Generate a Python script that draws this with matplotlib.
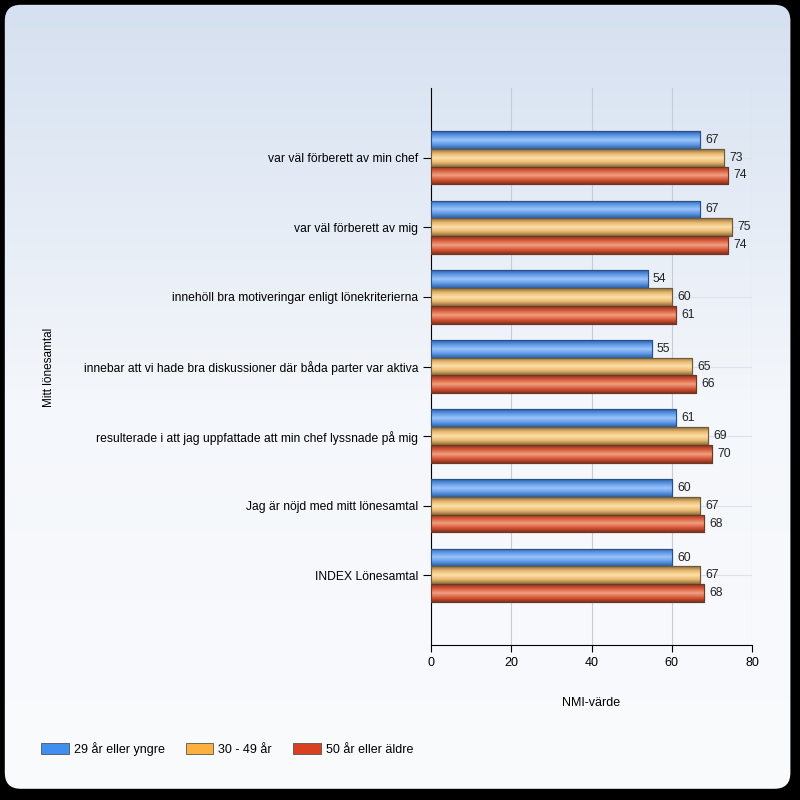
import numpy as np
import matplotlib
matplotlib.use("Agg")
import matplotlib.pyplot as plt
from matplotlib.patches import FancyBboxPatch, Patch
from matplotlib.colors import LinearSegmentedColormap

plt.rcParams['font.family'] = ['Liberation Sans', 'DejaVu Sans']

categories = [
    "var väl förberett av min chef",
    "var väl förberett av mig",
    "innehöll bra motiveringar enligt lönekriterierna",
    "innebar att vi hade bra diskussioner där båda parter var aktiva",
    "resulterade i att jag uppfattade att min chef lyssnade på mig",
    "Jag är nöjd med mitt lönesamtal",
    "INDEX Lönesamtal",
]
series_names = ["29 år eller yngre", "30 - 49 år", "50 år eller äldre"]
young = [67, 67, 54, 55, 61, 60, 60]
middle = [73, 75, 60, 65, 69, 67, 67]
old = [74, 74, 61, 66, 70, 68, 68]
series_values = [young, middle, old]
xticks = [0, 20, 40, 60, 80]

legend_colors = ["#3f8ef0", "#fbb040", "#d94020"]
grad_colors = [
    ["#2f5fa8", "#5f9ae8", "#9cc4f8", "#5f9ae8", "#2f5fa0"],
    ["#8a6a38", "#e8b870", "#fde0a8", "#e8b870", "#8a6a38"],
    ["#8a3018", "#d85a3c", "#f0a080", "#d85a3c", "#8a3018"],
]
edge_colors = ["#2a4f88", "#6a5a40", "#6a3828"]

fig = plt.figure(figsize=(8, 8), dpi=100)
fig.patch.set_facecolor("black")

# background panel with gradient
bg = fig.add_axes([0, 0, 1, 1], zorder=-10)
bg.set_xlim(0, 1); bg.set_ylim(0, 1); bg.axis("off")
panel = FancyBboxPatch((0.006, 0.014), 0.982, 0.980,
                       boxstyle="round,pad=0,rounding_size=0.02",
                       transform=bg.transAxes, facecolor="none", edgecolor="none")
bg.add_patch(panel)
grad = np.linspace(0, 1, 256).reshape(-1, 1)
cmap_bg = LinearSegmentedColormap.from_list("bg", ["#fafbfd", "#f4f7fb", "#d5e0f0"])
im = bg.imshow(grad, extent=[0, 1, 0, 1], aspect="auto", cmap=cmap_bg,
               origin="lower", transform=bg.transAxes)
im.set_clip_path(panel)

ax = fig.add_axes([431/800, 1-645/800, (752-431)/800, (645-88)/800])
ax.patch.set_alpha(0)

ypos = np.arange(1, len(categories) + 1)
bh = 0.255
offsets = [-bh, 0, bh]
for i, vals in enumerate(series_values):
    bars = ax.barh(ypos + offsets[i], vals, height=bh, color=legend_colors[i],
                   edgecolor=edge_colors[i], linewidth=0.8, zorder=3)
    cm = LinearSegmentedColormap.from_list("g%d" % i, grad_colors[i])
    for b, v in zip(bars, vals):
        x0, y0 = b.get_x(), b.get_y()
        w, h = b.get_width(), b.get_height()
        g = ax.imshow(np.linspace(0, 1, 64).reshape(-1, 1), extent=[x0, x0 + w, y0 + h, y0],
                      aspect="auto", cmap=cm, zorder=3.5, origin="upper")
        g.set_clip_path(b)
        ax.add_patch(plt.Rectangle((x0, y0), w, h, fill=False,
                                   edgecolor=edge_colors[i], linewidth=0.8, zorder=4))
        ax.text(v + 1.3, y0 + h / 2, str(v), va="center", ha="left",
                fontsize=8.8, color="#222222", zorder=5)

ax.set_xlim(0, 80)
ax.set_ylim(8, 0)
ax.set_xticks(xticks)
ax.set_xticklabels([str(t) for t in xticks], fontsize=9)
ax.set_yticks(ypos)
ax.set_yticklabels(categories, fontsize=8.7)
ax.tick_params(axis="y", length=6, direction="out", pad=3)
ax.tick_params(axis="x", length=5, direction="out", pad=4)
ax.grid(axis="x", color="#c8ccd4", linewidth=0.8, zorder=0)
ax.grid(axis="y", color="#dde2ea", linewidth=0.8, zorder=0)
ax.set_axisbelow(True)
for s in ["top", "right"]:
    ax.spines[s].set_visible(False)
ax.spines["left"].set_color("black")
ax.spines["bottom"].set_color("black")
ax.set_xlabel("NMI-värde", fontsize=9, labelpad=20)

fig.text(49/800, 1 - 367/800, "Mitt lönesamtal", rotation=90, va="center",
         ha="center", fontsize=8.5)

handles = [Patch(facecolor=c, edgecolor="#555555", linewidth=0.6) for c in legend_colors]
fig.legend(handles, series_names, loc="center left", bbox_to_anchor=(30/800, 1 - 749/800),
           ncol=3, frameon=False, fontsize=9, handlelength=2.2, handleheight=0.9,
           columnspacing=1.7, handletextpad=0.4)

fig.savefig("out.png", dpi=100, facecolor=fig.get_facecolor())
